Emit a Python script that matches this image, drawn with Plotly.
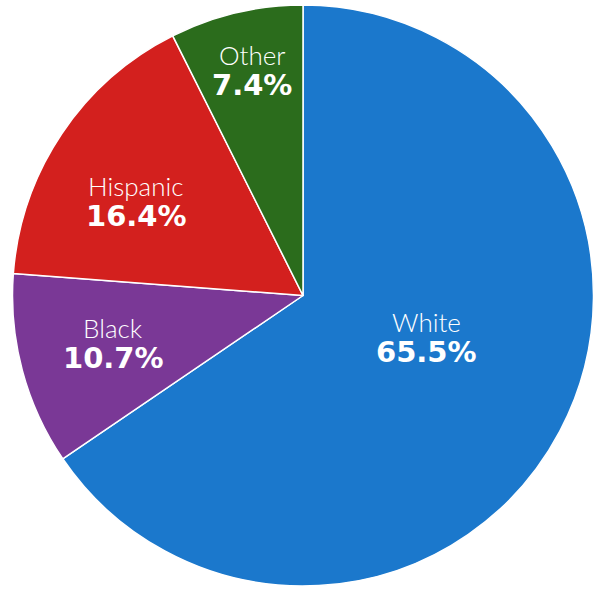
import plotly.graph_objects as go

categories = ["White", "Black", "Hispanic", "Other"]
values = [65.5, 10.7, 16.4, 7.4]
pct_labels = ["65.5%", "10.7%", "16.4%", "7.4%"]
colors = ["#1b78cc", "#7a3896", "#d3201e", "#2b6c1c"]

W, H = 596, 592
# label anchor points (pixels, centre of the label block)
label_pos = {"White": (426, 337), "Black": (113, 343), "Hispanic": (136, 201), "Other": (252, 70)}

fig = go.Figure(go.Pie(
    labels=categories, values=values, sort=False, direction="clockwise",
    rotation=0, marker=dict(colors=colors, line=dict(color="white", width=1.5)),
    textinfo="none", hoverinfo="label+percent", showlegend=False,
    domain=dict(x=[10 / W, 596 / W], y=[6 / H, 587 / H]),
))

ann = []
for cat, pct in zip(categories, pct_labels):
    px, py = label_pos[cat]
    ann.append(dict(x=px / W, y=1 - (py - 15) / H, xref="paper", yref="paper",
                    xanchor="center", yanchor="middle",
                    text=cat, showarrow=False,
                    font=dict(family="Lato", size=26, color="white", weight=300)))
    ann.append(dict(x=px / W, y=1 - (py + 15) / H, xref="paper", yref="paper",
                    xanchor="center", yanchor="middle",
                    text="<b>" + pct + "</b>", showarrow=False,
                    font=dict(family="DejaVu Sans", size=29, color="white", weight=700)))

fig.update_layout(width=W, height=H, margin=dict(l=0, r=0, t=0, b=0),
                  paper_bgcolor="white", plot_bgcolor="white", annotations=ann)
fig.write_html("out.html", config={"displayModeBar": False},
               post_script="document.body.style.margin='0';document.body.style.overflow='hidden';")
